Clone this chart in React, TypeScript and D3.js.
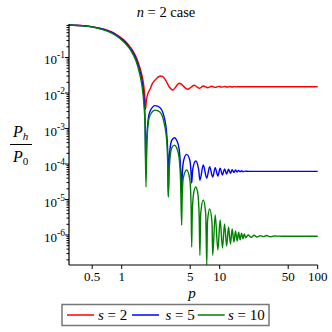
import React, { useMemo } from "react";
import * as d3 from "d3";

// curve samples: [p, P_h/P_0]
const redSeries: [number, number][] = [
  [0.29, 0.823], [0.4, 0.79], [0.5, 0.74], [0.6, 0.67], [0.7, 0.6], [0.8, 0.52], [0.9, 0.43],
  [1.0, 0.35], [1.1, 0.28], [1.2, 0.21], [1.3, 0.155], [1.4, 0.105], [1.5, 0.063], [1.6, 0.034],
  [1.68, 0.016], [1.72, 0.0085], [1.75, 0.0035], [1.79, 0.0065], [1.85, 0.0095], [1.94, 0.0125],
  [2.05, 0.018], [2.19, 0.023], [2.35, 0.028], [2.52, 0.03], [2.7, 0.027], [2.83, 0.022],
  [3.05, 0.015], [3.31, 0.0122], [3.87, 0.0188], [4.71, 0.0127], [5.5, 0.0165], [6.19, 0.01355],
  [6.8, 0.0157], [7.6, 0.0141], [8.3, 0.0155], [9.05, 0.0144], [9.75, 0.0154], [10.5, 0.0146],
  [11.2, 0.0153], [11.95, 0.0147], [12.65, 0.0152], [13.4, 0.0148], [14.1, 0.0151],
  [14.8, 0.01485], [15.5, 0.01505], [17, 0.015], [20, 0.015], [50, 0.015], [100, 0.015],
];

const blueSeries: [number, number][] = [
  [0.29, 0.823], [0.4, 0.785], [0.5, 0.73], [0.6, 0.655], [0.7, 0.58], [0.8, 0.5], [0.9, 0.41],
  [1.0, 0.33], [1.1, 0.26], [1.2, 0.195], [1.3, 0.14], [1.4, 0.092], [1.5, 0.052], [1.6, 0.025],
  [1.68, 0.0085], [1.73, 0.002], [1.77, 5e-5], [1.8, 4e-4], [1.86, 1.7e-3], [1.95, 3.1e-3],
  [2.2, 4.4e-3], [2.45, 3.9e-3], [2.7, 2.2e-3], [2.88, 7e-4], [2.95, 2e-4], [2.99, 1.3e-5],
  [3.04, 1.1e-4], [3.12, 2.8e-4], [3.25, 4.7e-4], [3.45, 5.5e-4], [3.65, 4.6e-4], [3.85, 2.7e-4],
  [3.98, 9e-5], [4.09, 1.5e-5], [4.16, 6e-5], [4.3, 1.3e-4], [4.6, 1.87e-4], [4.95, 1.3e-4],
  [5.1, 6e-5], [5.18, 2.9e-5], [5.3, 7e-5], [5.7, 1.22e-4], [6.1, 7e-5], [6.28, 3.5e-5],
  [6.8, 9.4e-5], [7.38, 4.0e-5], [7.9, 8.4e-5], [8.48, 4.3e-5], [9.0, 7.9e-5], [9.58, 4.6e-5],
  [10.1, 7.6e-5], [10.68, 4.9e-5], [11.2, 7.3e-5], [11.78, 5.2e-5], [12.3, 7.1e-5],
  [12.88, 5.5e-5], [13.4, 6.9e-5], [13.98, 5.75e-5], [14.5, 6.75e-5], [15.08, 5.95e-5],
  [15.6, 6.6e-5], [16.18, 6.05e-5], [16.7, 6.45e-5], [17.3, 6.0e-5], [18, 6.3e-5],
  [20, 6.2e-5], [40, 6.2e-5], [100, 6.2e-5],
];

const greenSeries: [number, number][] = [
  [0.29, 0.823], [0.4, 0.78], [0.5, 0.72], [0.6, 0.64], [0.7, 0.56], [0.8, 0.48], [0.9, 0.39],
  [1.0, 0.31], [1.1, 0.24], [1.2, 0.18], [1.3, 0.125], [1.4, 0.08], [1.5, 0.042], [1.6, 0.018],
  [1.68, 0.0055], [1.73, 1.2e-3], [1.77, 2.25e-5], [1.8, 3e-4], [1.86, 1.3e-3], [1.95, 2.4e-3],
  [2.2, 3.3e-3], [2.45, 2.9e-3], [2.7, 1.5e-3], [2.88, 4.5e-4], [2.95, 1e-4], [2.99, 1.17e-5],
  [3.04, 5e-5], [3.12, 1.6e-4], [3.25, 2.9e-4], [3.45, 3.4e-4], [3.65, 2.8e-4], [3.85, 1.5e-4],
  [3.98, 4e-5], [4.09, 1.9e-6], [4.14, 1.0e-5], [4.25, 4e-5], [4.6, 6.8e-5], [4.95, 3.8e-5],
  [5.1, 8e-6], [5.18, 4.6e-7], [5.25, 4e-6], [5.4, 1.4e-5], [5.7, 2.25e-5], [6.0, 1.4e-5],
  [6.18, 3e-6], [6.28, 2.7e-7], [6.4, 4e-6], [6.8, 9.7e-6], [7.2, 4e-6], [7.38, 1.43e-7],
  [7.5, 2.3e-6], [7.9, 5.4e-6], [8.35, 2.2e-6], [8.48, 2.7e-7], [9.0, 3.7e-6], [9.58, 3.8e-7],
  [10.1, 2.65e-6], [10.68, 4.3e-7], [11.2, 2.04e-6], [11.78, 4.9e-7], [12.3, 1.68e-6],
  [12.88, 5.6e-7], [13.4, 1.48e-6], [13.98, 6.3e-7], [14.5, 1.3e-6], [15.08, 6.8e-7],
  [15.6, 1.2e-6], [16.18, 7.3e-7], [16.7, 1.13e-6], [17.28, 7.8e-7], [17.8, 1.08e-6],
  [18.4, 8.4e-7], [19.5, 1.0e-6], [21, 8.6e-7], [22.5, 9.8e-7], [24, 8.8e-7], [26, 9.6e-7],
  [28, 9.0e-7], [30, 9.7e-7], [33, 8.9e-7], [36, 9.4e-7], [45, 9.2e-7], [60, 9.2e-7],
  [100, 9.2e-7],
];

const xTickValues = [0.5, 1, 5, 10, 50, 100];
const yTickExponents = [-6, -5, -4, -3, -2, -1];
const seriesLabels = ["2", "5", "10"];
const seriesColors = ["#ff0000", "#0000ff", "#008000"];

// plot box, in page pixels
const left = 69;
const right = 317.7;
const top = 25;
const bottom = 265;

const serif = "Liberation Serif, Times New Roman, serif";

export default function App() {
  const x = d3.scaleLog().domain([0.29, 100]).range([left, right]);
  const y = d3.scaleLog().domain([1.43e-7, 0.823]).range([bottom, top]);

  const line = d3
    .line<[number, number]>()
    .x((d) => x(d[0]))
    .y((d) => y(d[1]))
    .curve(d3.curveMonotoneX);

  const paths = [redSeries, blueSeries, greenSeries].map((s) => line(s) || "");

  // minor ticks for each decade
  const yMinor = useMemo(() => {
    const out: { v: number; major: boolean }[] = [];
    const [lo, hi] = y.domain();
    for (let e = -7; e <= 0; e++) {
      for (let m = 1; m <= 9; m++) {
        const v = m * Math.pow(10, e);
        if (v >= lo && v <= hi) out.push({ v, major: m === 1 });
      }
    }
    return out;
  }, []);

  // legend layout
  const legendLines = [67, 132, 197.7];
  const legendText = [98, 165.5, 228];

  return (
    <svg
      width={332}
      height={332}
      style={{ position: "absolute", left: 0, top: 0, background: "#fff" }}
      fontFamily={serif}
    >
      <defs>
        <clipPath id="plot-clip">
          <rect x={left} y={top - 2} width={right - left + 2} height={bottom - top + 2} />
        </clipPath>
      </defs>

      {/* title */}
      <text x={166} y={17} textAnchor="middle" fontSize={14.5}>
        <tspan fontStyle="italic">n</tspan> = 2 case
      </text>

      {/* curves */}
      <g clipPath="url(#plot-clip)" fill="none" strokeWidth={1.4}>
        {paths.map((d, i) => (
          <path key={i} d={d} stroke={seriesColors[i]} />
        ))}
      </g>

      {/* axes */}
      <g stroke="#000" strokeWidth={1.2}>
        <line x1={left} x2={left} y1={top - 1} y2={bottom} />
        <line x1={left} x2={right} y1={bottom} y2={bottom} />
        {yMinor.map((t, i) => (
          <line key={i} x1={left - (t.major ? 4 : 2.5)} x2={left} y1={y(t.v)} y2={y(t.v)} strokeWidth={1} />
        ))}
        {xTickValues.map((v) => (
          <line key={v} x1={x(v)} x2={x(v)} y1={bottom} y2={bottom + 4} strokeWidth={1} />
        ))}
      </g>

      {/* y tick labels */}
      {yTickExponents.map((e) => (
        <text key={e} x={65} y={y(Math.pow(10, e)) + 7} textAnchor="end" fontSize={13}>
          10
          <tspan fontSize={9.5} dy={-6}>
            -{Math.abs(e)}
          </tspan>
        </text>
      ))}

      {/* x tick labels */}
      {xTickValues.map((v) => (
        <text key={v} x={x(v)} y={281} textAnchor="middle" fontSize={13}>
          {v}
        </text>
      ))}

      {/* axis titles */}
      <text x={192} y={298} textAnchor="middle" fontSize={15} fontStyle="italic">
        p
      </text>
      <g fontSize={16} fontStyle="italic">
        <text x={13} y={137}>
          P<tspan fontSize={11} dy={3}>h</tspan>
        </text>
        <line x1={10} x2={32} y1={144.5} y2={144.5} stroke="#000" strokeWidth={1} />
        <text x={13} y={161.5}>
          P<tspan fontSize={11} dy={3} fontStyle="normal">0</tspan>
        </text>
      </g>

      {/* legend */}
      <rect x={62} y={304.5} width={207} height={21} fill="#fff" stroke="#777" strokeWidth={1.5} />
      {seriesLabels.map((lab, i) => (
        <g key={lab}>
          <line
            x1={legendLines[i]}
            x2={legendLines[i] + 27}
            y1={315}
            y2={315}
            stroke={seriesColors[i]}
            strokeWidth={1.5}
          />
          <text x={legendText[i]} y={320} fontSize={15}>
            <tspan fontStyle="italic">s</tspan> = {lab}
          </text>
        </g>
      ))}
    </svg>
  );
}
